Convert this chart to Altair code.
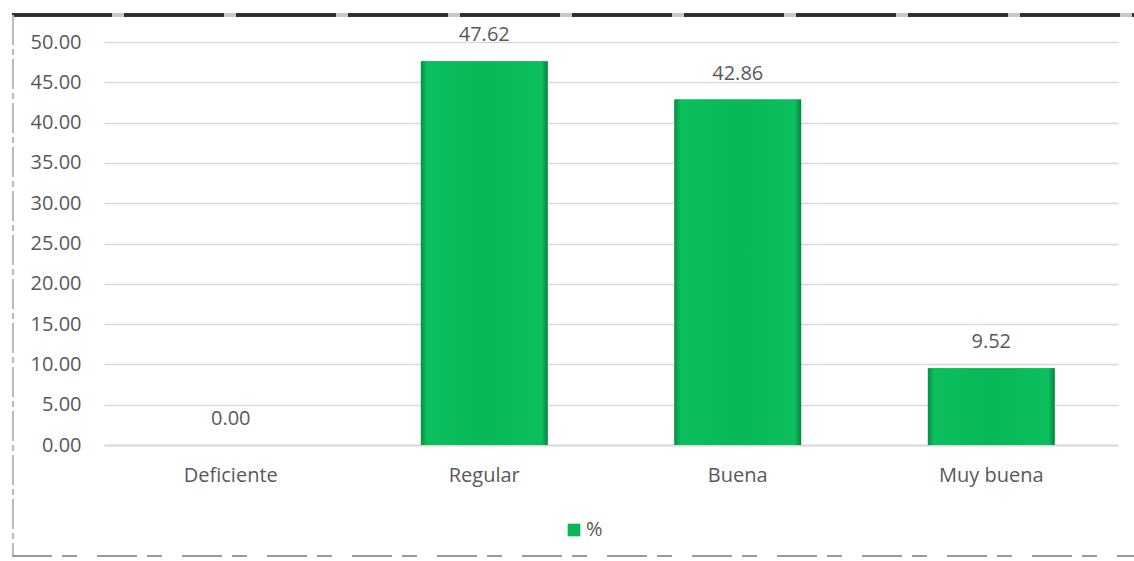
import altair as alt
import pandas as pd

categorias = ["Deficiente", "Regular", "Buena", "Muy buena"]
porcentajes = [0.00, 47.62, 42.86, 9.52]
serie = ["%", "%", "%", "%"]
ticks_y = [0, 5, 10, 15, 20, 25, 30, 35, 40, 45, 50]

df = pd.DataFrame({"categoria": categorias, "valor": porcentajes, "serie": serie})

FONT = "Open Sans"
GRIS = "#595959"
VERDE = "#0ab758"

x_enc = alt.X(
    "categoria:N",
    sort=categorias,
    title=None,
    scale=alt.Scale(paddingInner=0.5, paddingOuter=0.25),
    axis=alt.Axis(labelAngle=0, ticks=False, domainColor="#d9d9d9", domainWidth=2,
                  labelPadding=20, labelFontSize=20, labelColor=GRIS, labelFont=FONT,
                  grid=False),
)
y_enc = alt.Y(
    "valor:Q",
    title=None,
    scale=alt.Scale(domain=[0, 50], nice=False),
    axis=alt.Axis(values=ticks_y, format=".2f", ticks=False, domain=False,
                  gridColor="#d9d9d9", gridWidth=1.5, labelPadding=23,
                  labelFontSize=20, labelColor=GRIS, labelFont=FONT),
)

base = alt.Chart(df)

# flat bars carrying the legend entry
barras = base.mark_bar().encode(
    x=x_enc,
    y=y_enc,
    color=alt.Color(
        "serie:N",
        scale=alt.Scale(range=[VERDE]),
        legend=alt.Legend(title=None, orient="none", legendX=460, legendY=478,
                          symbolType="square", symbolSize=160, symbolStrokeWidth=0,
                          labelFontSize=20, labelColor=GRIS, labelFont=FONT,
                          labelOffset=2),
    ),
)

# bevelled shading on top of the flat bars
sombreado = base.mark_bar(
    color=alt.Gradient(
        gradient="linear", x1=0, x2=1, y1=0, y2=0,
        stops=[
            alt.GradientStop(color="#078f45", offset=0),
            alt.GradientStop(color="#0cc05e", offset=0.05),
            alt.GradientStop(color="#09b757", offset=0.5),
            alt.GradientStop(color="#0cc05e", offset=0.95),
            alt.GradientStop(color="#06853f", offset=1),
        ],
    )
).encode(x=x_enc, y=y_enc)

etiquetas = base.mark_text(
    baseline="bottom", dy=-16, fontSize=20, color=GRIS, font=FONT
).encode(x=x_enc, y=y_enc, text=alt.Text("valor:Q", format=".2f"))

# frame around the chart
marco_sup_fondo = base.mark_rule(color="#c8c8c8", strokeWidth=4).encode(
    x=alt.value(-92), x2=alt.value(1030), y=alt.value(-27)
)
marco_sup = base.mark_rule(color="#2e2e2e", strokeWidth=3, strokeDash=[100, 12]).encode(
    x=alt.value(-92), x2=alt.value(1030), y=alt.value(-27)
)
marco_izq = base.mark_rule(color="#bbbbbb", strokeWidth=2, strokeDash=[30, 4, 6, 4]).encode(
    x=alt.value(-91), y=alt.value(-27), y2=alt.value(514)
)
marco_inf = base.mark_rule(color="#9a9a9a", strokeWidth=2, strokeDash=[40, 10, 15, 20]).encode(
    x=alt.value(-92), x2=alt.value(1030), y=alt.value(514)
)

chart = (
    alt.layer(barras, sombreado, etiquetas, marco_sup_fondo, marco_sup, marco_izq, marco_inf)
    .properties(
        width=1014,
        height=403,
        autosize=alt.AutoSizeParams(type="none"),
        padding={"left": 104, "top": 42, "right": 16, "bottom": 116},
        background="white",
    )
    .configure_view(stroke=None)
)

chart.save("out.html", embed_options={"renderer": "svg", "actions": False})
